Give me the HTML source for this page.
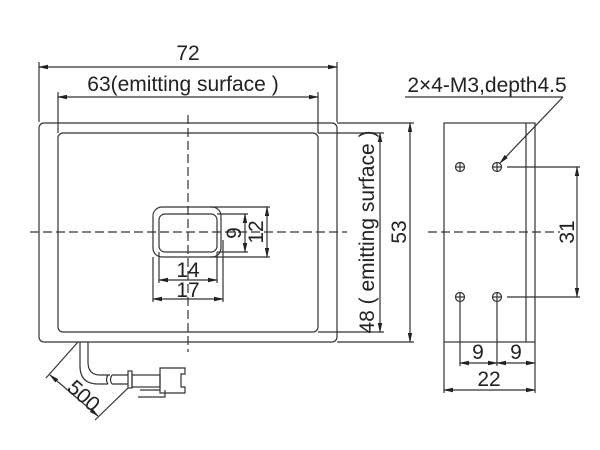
<!DOCTYPE html>
<html><head><style>body{margin:0;background:#fff}svg{display:block}text{font-family:"Liberation Sans",sans-serif;fill:#222}</style></head><body>
<svg width="600" height="450" viewBox="0 0 600 450" xmlns="http://www.w3.org/2000/svg">
<defs><marker id="a" markerWidth="10" markerHeight="6" refX="9" refY="3" orient="auto-start-reverse" markerUnits="userSpaceOnUse"><path d="M0,0.8 L10,3 L0,5.2z" fill="#222"/></marker></defs>
<g stroke="#333" stroke-width="1.2" fill="none">
<rect x="39" y="123" width="298" height="219" rx="5"/>
<rect x="58" y="133" width="260" height="199" rx="5"/>
<line x1="39" y1="62" x2="39" y2="122"/><line x1="337" y1="62" x2="337" y2="122"/>
<line x1="39" y1="67" x2="337" y2="67" marker-start="url(#a)" marker-end="url(#a)"/>
<line x1="58" y1="92" x2="58" y2="133"/><line x1="318" y1="92" x2="318" y2="133"/>
<line x1="58" y1="97" x2="318" y2="97" marker-start="url(#a)" marker-end="url(#a)"/>
<line x1="188" y1="115" x2="188" y2="352" stroke-dasharray="9,4"/>
<line x1="30" y1="232" x2="347" y2="232" stroke-dasharray="9,4"/>
<rect x="153" y="207" width="68" height="50" rx="9"/>
<rect x="159" y="214" width="58" height="38" rx="6"/>
<line x1="217" y1="214" x2="248" y2="214"/><line x1="217" y1="252" x2="248" y2="252"/>
<line x1="245" y1="214" x2="245" y2="252" marker-start="url(#a)" marker-end="url(#a)"/>
<line x1="210" y1="207" x2="270" y2="207"/><line x1="210" y1="257" x2="270" y2="257"/>
<line x1="267" y1="207" x2="267" y2="257" marker-start="url(#a)" marker-end="url(#a)"/>
<line x1="159" y1="252" x2="159" y2="283"/><line x1="217" y1="252" x2="217" y2="283"/>
<line x1="159" y1="280" x2="217" y2="280" marker-start="url(#a)" marker-end="url(#a)"/>
<line x1="153" y1="257" x2="153" y2="302"/><line x1="223" y1="240" x2="223" y2="302"/>
<line x1="153" y1="299" x2="223" y2="299" marker-start="url(#a)" marker-end="url(#a)"/>
<line x1="318" y1="133" x2="384" y2="133"/><line x1="318" y1="332" x2="384" y2="332"/>
<line x1="380" y1="133" x2="380" y2="332" marker-start="url(#a)" marker-end="url(#a)"/>
<line x1="337" y1="123" x2="414" y2="123"/><line x1="337" y1="342" x2="414" y2="342"/>
<line x1="410" y1="123" x2="410" y2="342" marker-start="url(#a)" marker-end="url(#a)"/>
<path d="M80,342 V366 Q80,384 98,384 H108"/>
<path d="M88,342 V362 Q88,375 100,375 H110"/>
<path d="M108,375 q-3,4.5 0,9 M112,375 q-3,4.5 0,9"/>
<path d="M112,375 H128 M112,384 H128"/>
<rect x="128" y="371" width="4" height="17"/>
<rect x="132" y="375" width="28" height="12"/>
<path d="M160,368 H185 V374 H181 V387 H185 V393 H160 Z"/>
<path d="M138,397 H165 V390 M140,390 H160"/>
<line x1="78" y1="342" x2="46" y2="378"/><line x1="128" y1="388" x2="95" y2="420"/>
<line x1="50" y1="375" x2="98" y2="416" marker-start="url(#a)" marker-end="url(#a)"/>
<rect x="444" y="123" width="91" height="219"/>
<line x1="526" y1="123" x2="526" y2="342"/>
<line x1="428" y1="232" x2="560" y2="232" stroke-dasharray="9,4"/>
<g><circle cx="460" cy="167" r="4.5"/><line x1="455" y1="167" x2="465" y2="167"/><line x1="460" y1="162" x2="460" y2="172"/>
<circle cx="497" cy="167" r="4.5"/><line x1="492" y1="167" x2="502" y2="167"/><line x1="497" y1="162" x2="497" y2="172"/>
<circle cx="460" cy="297" r="4.5"/><line x1="455" y1="297" x2="465" y2="297"/><line x1="460" y1="292" x2="460" y2="302"/>
<circle cx="497" cy="297" r="4.5"/><line x1="492" y1="297" x2="502" y2="297"/><line x1="497" y1="292" x2="497" y2="302"/></g>
<line x1="507" y1="167" x2="580" y2="167"/><line x1="507" y1="297" x2="580" y2="297"/>
<line x1="577" y1="167" x2="577" y2="297" marker-start="url(#a)" marker-end="url(#a)"/>
<line x1="460" y1="302" x2="460" y2="366"/><line x1="497" y1="302" x2="497" y2="366"/>
<line x1="535" y1="342" x2="535" y2="393"/><line x1="444" y1="342" x2="444" y2="393"/>
<line x1="460" y1="363" x2="497" y2="363" marker-start="url(#a)" marker-end="url(#a)"/>
<line x1="497" y1="363" x2="535" y2="363" marker-start="url(#a)" marker-end="url(#a)"/>
<line x1="444" y1="390" x2="535" y2="390" marker-start="url(#a)" marker-end="url(#a)"/>
<line x1="405" y1="97" x2="563" y2="97"/>
<line x1="563" y1="97" x2="500" y2="163" marker-end="url(#a)"/>
</g>
<g font-size="21">
<text x="188" y="60" text-anchor="middle">72</text>
<text x="183" y="91" text-anchor="middle">63(emitting surface )</text>
<text x="188" y="277" text-anchor="middle">14</text>
<text x="188" y="297" text-anchor="middle">17</text>
<text transform="translate(241,233) rotate(-90)" text-anchor="middle">9</text>
<text transform="translate(263,232) rotate(-90)" text-anchor="middle">12</text>
<text transform="translate(374,232) rotate(-90)" text-anchor="middle">48 ( emitting surface )</text>
<text transform="translate(406,232) rotate(-90)" text-anchor="middle">53</text>
<text x="487" y="92" text-anchor="middle">2×4-M3,depth4.5</text>
<text transform="translate(574,232) rotate(-90)" text-anchor="middle">31</text>
<text x="478" y="359" text-anchor="middle">9</text>
<text x="516" y="359" text-anchor="middle">9</text>
<text x="489" y="386" text-anchor="middle">22</text>
<text transform="translate(79,401) rotate(42)" text-anchor="middle">500</text>
</g>
</svg>
</body></html>
